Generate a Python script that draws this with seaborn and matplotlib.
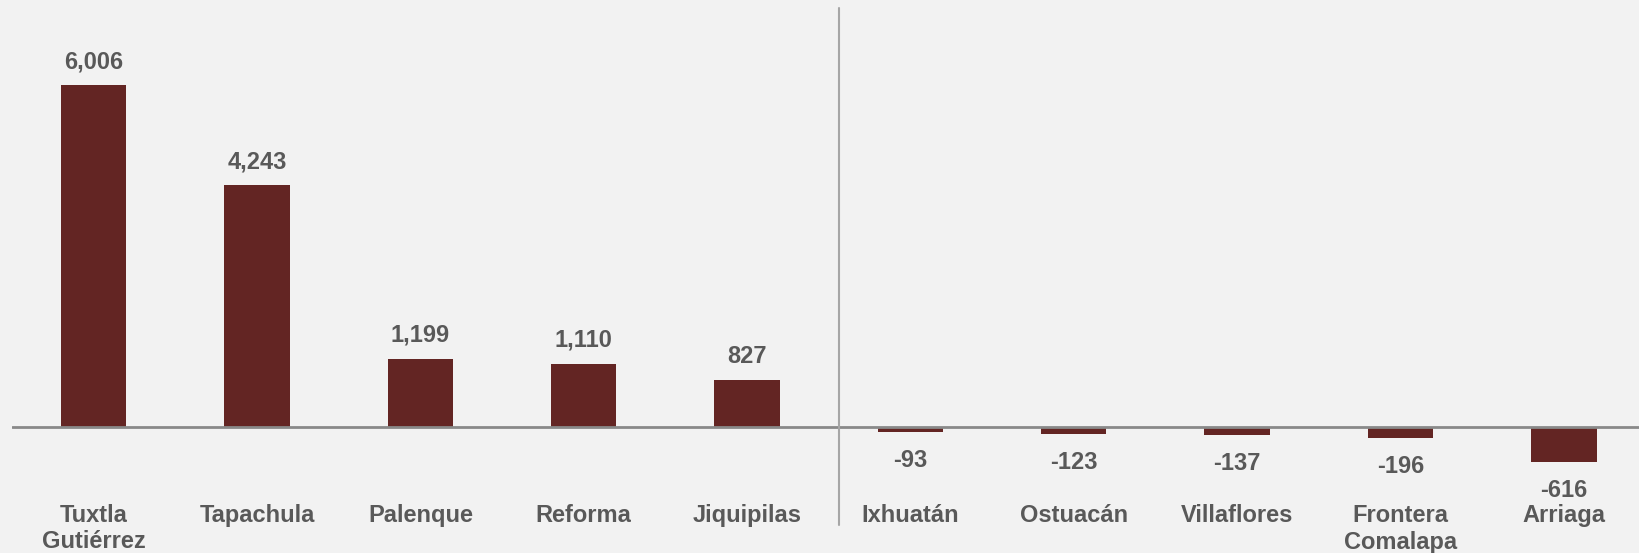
import matplotlib
matplotlib.use("Agg")
import matplotlib.pyplot as plt
import seaborn as sns
import pandas as pd

categories = ["Tuxtla\nGutiérrez", "Tapachula", "Palenque", "Reforma", "Jiquipilas",
              "Ixhuatán", "Ostuacán", "Villaflores", "Frontera\nComalapa", "Arriaga"]
values = [6006, 4243, 1199, 1110, 827, -93, -123, -137, -196, -616]
value_labels = ["6,006", "4,243", "1,199", "1,110", "827", "-93", "-123", "-137", "-196", "-616"]

BG = "#f2f2f2"
BAR = "#632523"
TXT = "#595959"

sns.set_theme(style="white")
plt.rcParams["font.family"] = ["Liberation Sans", "DejaVu Sans"]

df = pd.DataFrame({"cat": categories, "val": values})

fig = plt.figure(figsize=(16.39, 5.53), dpi=100, facecolor=BG)
ax = fig.add_axes([12 / 1639, 0, 1 - 12 / 1639, 1])
ax.set_facecolor(BG)

sns.barplot(data=df, x="cat", y="val", color=BAR, width=0.4, saturation=1,
            ax=ax, edgecolor="none")

ax.set_xlim(-0.5, 9.46)
px = 1 / 0.05694  # data units per pixel
ax.set_ylim(-126 * px, (553 - 126) * px)

for s in ax.spines.values():
    s.set_visible(False)
ax.set_xticks([])
ax.set_yticks([])
ax.set_xlabel("")
ax.set_ylabel("")

ax.axhline(0, color="#898989", lw=2, zorder=1)
ax.plot([4.56, 4.56], [-98 * px, 419 * px], color="#a6a6a6", lw=1.5,
        clip_on=False, zorder=1)

for i, (v, lab) in enumerate(zip(values, value_labels)):
    if v >= 0:
        y = v + 17 * px
    else:
        y = v - 35 * px
    ax.text(i, y, lab, ha="center", va="baseline", fontsize=17, fontweight="bold",
            color=TXT)

for i, c in enumerate(categories):
    for k, line in enumerate(c.split("\n")):
        ax.text(i, -(95 + 26.5 * k) * px, line, ha="center", va="baseline",
                fontsize=17, fontweight="bold", color=TXT)

fig.savefig("out.png", dpi=100, facecolor=BG)
